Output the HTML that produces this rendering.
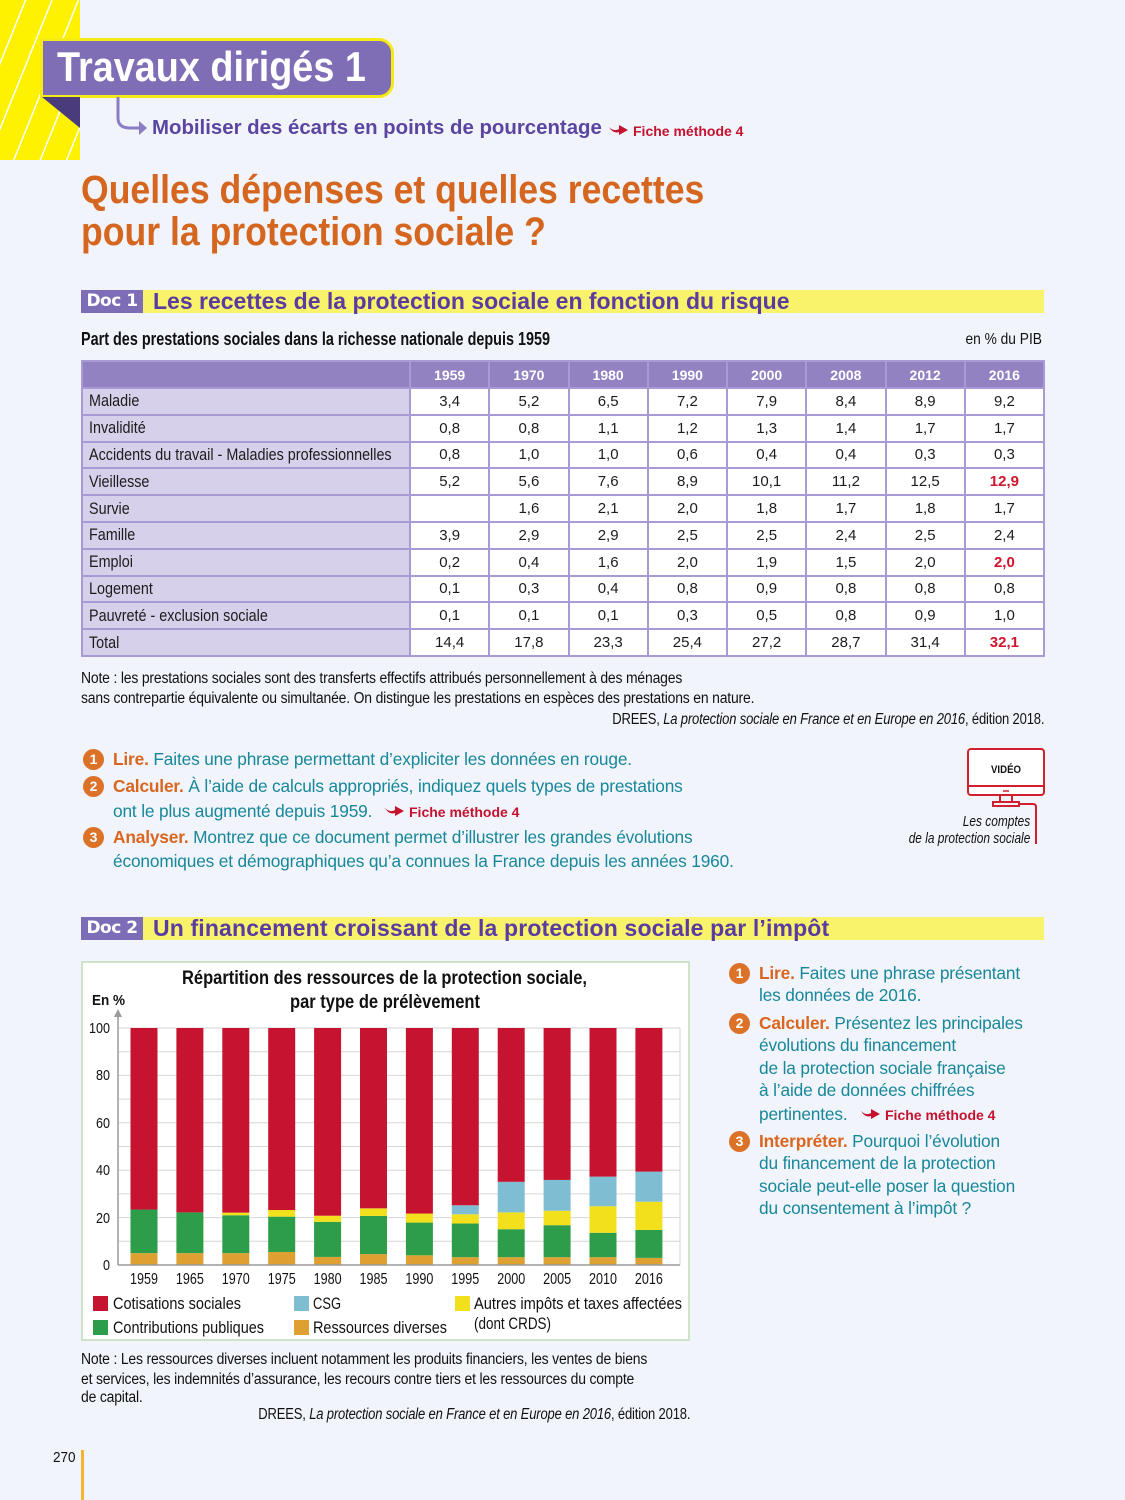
<!DOCTYPE html>
<html><head><meta charset="utf-8">
<style>
*{margin:0;padding:0;box-sizing:border-box}
html,body{width:1125px;height:1500px;overflow:hidden}
body{background:#f1f4fb;position:relative;font-family:"Liberation Sans",sans-serif}
.t{position:absolute;white-space:nowrap;line-height:1}
.sl{transform-origin:0 50%}
.sr{transform-origin:100% 50%}
.q{font-size:17.3px;color:#17879a;letter-spacing:-0.15px}
.q b{color:#d9651e}
.fm{color:#c4122f;font-weight:bold;font-size:14px}
.num{position:absolute;width:21px;height:21px;border-radius:50%;background:#dc7228;color:#fff;font-weight:bold;font-size:14px;text-align:center;line-height:21px}
table{position:absolute;left:81px;top:360px;width:964px;border-collapse:collapse;table-layout:fixed}
td,th{border:2px solid #a999d4;padding:0;height:26.8px;text-align:center;font-size:15px;color:#1c1c1c;background:#fff;white-space:nowrap;overflow:hidden}
th{background:#9282c2;color:#fff;font-weight:bold;font-size:14px;height:27px}
td.l{background:#d7d0ea;text-align:left;padding-left:6px;font-size:17px}
td.l span{display:inline-block;transform:scaleX(0.845);transform-origin:0 50%}
td.r{color:#d0142c;font-weight:bold}
.docb{position:absolute;left:81px;width:963px;height:23px;background:#f9f26b}
.docl{position:absolute;left:0;top:0;width:62px;height:23px;background:#7d6cb6;color:#fff;font-weight:bold;font-size:17px;line-height:23px;text-align:center;font-family:"DejaVu Sans",sans-serif;letter-spacing:-0.5px}
.doct{position:absolute;left:72px;top:0;line-height:23px;font-weight:bold;color:#5a3ca0;font-size:23px;white-space:nowrap}
.note{font-size:15.5px;color:#111;letter-spacing:-0.2px;transform:scaleX(0.9)}
</style></head><body>

<!-- yellow striped block -->
<div style="position:absolute;left:0;top:0;width:80px;height:160px;background:#fff200;background-image:repeating-linear-gradient(112deg,transparent 0 23px,#ffffff 23px 24.5px)"></div>

<!-- title banner -->
<div style="position:absolute;left:40px;top:38px;width:354px;height:60px;background:#7f6db5;border:3px solid #f5ea14;border-radius:0 15px 15px 0"></div>
<div class="t sl" style="left:57px;top:46px;font-size:42px;font-weight:bold;color:#fff;transform:scaleX(0.9)">Travaux dirigés 1</div>
<svg style="position:absolute;left:0;top:0" width="160" height="160">
 <polygon points="42,97 80,97 80,128" fill="#4a3b7d"/>
 <path d="M118,97 L118,118 Q118,128 130,128 L140,128" fill="none" stroke="#8c7cc4" stroke-width="3"/>
 <polygon points="139,121 147,128 139,135" fill="#8c7cc4"/>
</svg>
<div class="t" style="left:152px;top:118px;font-size:20.4px;font-weight:bold;color:#5b45a0">Mobiliser des écarts en points de pourcentage</div>
<svg style="position:absolute;left:608px;top:123px" width="22" height="14"><path d="M1,4 Q6,9 11,6 L11,2 L20,7 L11,12 L11,9 Q5,11 1,4Z" fill="#c4122f"/></svg>
<div class="t fm" style="left:633px;top:124px">Fiche méthode 4</div>

<!-- main title -->
<div class="t sl" style="left:81px;top:170px;font-size:40px;font-weight:bold;color:#d5661f;transform:scaleX(0.89)">Quelles dépenses et quelles recettes</div>
<div class="t sl" style="left:81px;top:212px;font-size:40px;font-weight:bold;color:#d5661f;transform:scaleX(0.89)">pour la protection sociale ?</div>

<!-- Doc 1 -->
<div class="docb" style="top:290px"><div class="docl">Doc 1</div><div class="doct">Les recettes de la protection sociale en fonction du risque</div></div>
<div class="t sl" style="left:81px;top:330px;font-size:18px;font-weight:bold;color:#111;transform:scaleX(0.8)">Part des prestations sociales dans la richesse nationale depuis 1959</div>
<div class="t sr" style="right:83px;top:332px;font-size:16px;color:#111;transform:scaleX(0.86)">en % du PIB</div>

<table>
<colgroup><col style="width:328px"><col><col><col><col><col><col><col><col></colgroup>
<tr><th style="background:#9282c2"></th><th>1959</th><th>1970</th><th>1980</th><th>1990</th><th>2000</th><th>2008</th><th>2012</th><th>2016</th></tr>
<tr><td class="l"><span>Maladie</span></td><td>3,4</td><td>5,2</td><td>6,5</td><td>7,2</td><td>7,9</td><td>8,4</td><td>8,9</td><td>9,2</td></tr>
<tr><td class="l"><span>Invalidité</span></td><td>0,8</td><td>0,8</td><td>1,1</td><td>1,2</td><td>1,3</td><td>1,4</td><td>1,7</td><td>1,7</td></tr>
<tr><td class="l"><span>Accidents du travail - Maladies professionnelles</span></td><td>0,8</td><td>1,0</td><td>1,0</td><td>0,6</td><td>0,4</td><td>0,4</td><td>0,3</td><td>0,3</td></tr>
<tr><td class="l"><span>Vieillesse</span></td><td>5,2</td><td>5,6</td><td>7,6</td><td>8,9</td><td>10,1</td><td>11,2</td><td>12,5</td><td class="r">12,9</td></tr>
<tr><td class="l"><span>Survie</span></td><td></td><td>1,6</td><td>2,1</td><td>2,0</td><td>1,8</td><td>1,7</td><td>1,8</td><td>1,7</td></tr>
<tr><td class="l"><span>Famille</span></td><td>3,9</td><td>2,9</td><td>2,9</td><td>2,5</td><td>2,5</td><td>2,4</td><td>2,5</td><td>2,4</td></tr>
<tr><td class="l"><span>Emploi</span></td><td>0,2</td><td>0,4</td><td>1,6</td><td>2,0</td><td>1,9</td><td>1,5</td><td>2,0</td><td class="r">2,0</td></tr>
<tr><td class="l"><span>Logement</span></td><td>0,1</td><td>0,3</td><td>0,4</td><td>0,8</td><td>0,9</td><td>0,8</td><td>0,8</td><td>0,8</td></tr>
<tr><td class="l"><span>Pauvreté - exclusion sociale</span></td><td>0,1</td><td>0,1</td><td>0,1</td><td>0,3</td><td>0,5</td><td>0,8</td><td>0,9</td><td>1,0</td></tr>
<tr><td class="l"><span>Total</span></td><td>14,4</td><td>17,8</td><td>23,3</td><td>25,4</td><td>27,2</td><td>28,7</td><td>31,4</td><td class="r">32,1</td></tr>
</table>

<div class="t sl note" style="left:81px;top:671px">Note : les prestations sociales sont des transferts effectifs attribués personnellement à des ménages</div>
<div class="t sl note" style="left:81px;top:691px">sans contrepartie équivalente ou simultanée. On distingue les prestations en espèces des prestations en nature.</div>
<div class="t sr note" style="right:81px;top:712px;transform:scaleX(0.84)">DREES, <i>La protection sociale en France et en Europe en 2016</i>, édition 2018.</div>

<!-- questions doc 1 -->
<div class="num" style="left:83px;top:749px">1</div>
<div class="num" style="left:83px;top:776px">2</div>
<div class="num" style="left:83px;top:827px">3</div>
<div class="t q" style="left:113px;top:751px"><b>Lire.</b> Faites une phrase permettant d’expliciter les données en rouge.</div>
<div class="t q" style="left:113px;top:778px"><b>Calculer.</b> À l’aide de calculs appropriés, indiquez quels types de prestations</div>
<div class="t q" style="left:113px;top:803px">ont le plus augmenté depuis 1959.</div>
<svg style="position:absolute;left:384px;top:804px" width="22" height="14"><path d="M1,4 Q6,9 11,6 L11,2 L20,7 L11,12 L11,9 Q5,11 1,4Z" fill="#c4122f"/></svg>
<div class="t fm" style="left:409px;top:805px">Fiche méthode 4</div>
<div class="t q" style="left:113px;top:829px"><b>Analyser.</b> Montrez que ce document permet d’illustrer les grandes évolutions</div>
<div class="t q" style="left:113px;top:853px">économiques et démographiques qu’a connues la France depuis les années 1960.</div>

<!-- video icon -->
<svg style="position:absolute;left:960px;top:744px" width="90" height="105">
 <rect x="8" y="5" width="76" height="46" rx="3" fill="#fff" stroke="#d21f2e" stroke-width="2"/>
 <line x1="8" y1="42" x2="84" y2="42" stroke="#d21f2e" stroke-width="2"/>
 <line x1="43" y1="47" x2="49" y2="47" stroke="#d21f2e" stroke-width="1.5"/>
 <path d="M40,51 L40,58 L52,58 L52,51" fill="none" stroke="#d21f2e" stroke-width="2"/>
 <rect x="33" y="58" width="26" height="4" fill="none" stroke="#d21f2e" stroke-width="2"/>
 <path d="M59,60 L73,60 Q76,60 76,63 L76,100" fill="none" stroke="#d21f2e" stroke-width="2"/>
 <text x="46" y="29" text-anchor="middle" font-family="Liberation Sans, sans-serif" font-weight="bold" font-size="11" textLength="30" lengthAdjust="spacingAndGlyphs" fill="#111">VIDÉO</text>
</svg>
<div class="t sr" style="right:95px;top:815px;font-size:14.5px;font-style:italic;color:#111;transform:scaleX(0.82)">Les comptes</div>
<div class="t sr" style="right:95px;top:832px;font-size:14.5px;font-style:italic;color:#111;transform:scaleX(0.82)">de la protection sociale</div>

<!-- Doc 2 -->
<div class="docb" style="top:917px"><div class="docl">Doc 2</div><div class="doct" style="letter-spacing:0.15px">Un financement croissant de la protection sociale par l’impôt</div></div>

<!-- chart -->
<div style="position:absolute;left:81px;top:961px;width:609px;height:380px;background:#fff;border:2px solid #cfe3cb"></div>
<svg style="position:absolute;left:81px;top:961px" width="609" height="380" font-family="Liberation Sans, sans-serif">
 <text x="101" y="23" font-weight="bold" font-size="19" fill="#111" textLength="405" lengthAdjust="spacingAndGlyphs">Répartition des ressources de la protection sociale,</text>
 <text x="209" y="47" font-weight="bold" font-size="19" fill="#111" textLength="190" lengthAdjust="spacingAndGlyphs">par type de prélèvement</text>
 <text x="11" y="44" font-weight="bold" font-size="15" fill="#111" textLength="33" lengthAdjust="spacingAndGlyphs">En %</text>
 <g stroke="#d6d6d6" stroke-width="1">
  <line x1="37" y1="280.3" x2="599" y2="280.3"/><line x1="37" y1="256.6" x2="599" y2="256.6"/>
  <line x1="37" y1="232.9" x2="599" y2="232.9"/><line x1="37" y1="209.2" x2="599" y2="209.2"/>
  <line x1="37" y1="185.5" x2="599" y2="185.5"/><line x1="37" y1="161.8" x2="599" y2="161.8"/>
  <line x1="37" y1="138.1" x2="599" y2="138.1"/><line x1="37" y1="114.4" x2="599" y2="114.4"/>
  <line x1="37" y1="90.7" x2="599" y2="90.7"/><line x1="37" y1="67" x2="599" y2="67"/>
  <line x1="599" y1="67" x2="599" y2="304"/>
 </g>
 <g transform="translate(0,304) scale(1,-2.37)">
  <rect x="49.5" y="0" width="27" height="5" fill="#dea030"/><rect x="49.5" y="5" width="27" height="18.4" fill="#2e9d49"/><rect x="49.5" y="23.4" width="27" height="76.6" fill="#c6132f"/>
  <rect x="95.4" y="0" width="27" height="5" fill="#dea030"/><rect x="95.4" y="5" width="27" height="17.2" fill="#2e9d49"/><rect x="95.4" y="22.2" width="27" height="77.8" fill="#c6132f"/>
  <rect x="141.3" y="0" width="27" height="5" fill="#dea030"/><rect x="141.3" y="5" width="27" height="16" fill="#2e9d49"/><rect x="141.3" y="21" width="27" height="1.1" fill="#f3e01c"/><rect x="141.3" y="22.1" width="27" height="77.9" fill="#c6132f"/>
  <rect x="187.2" y="0" width="27" height="5.5" fill="#dea030"/><rect x="187.2" y="5.5" width="27" height="14.9" fill="#2e9d49"/><rect x="187.2" y="20.4" width="27" height="2.8" fill="#f3e01c"/><rect x="187.2" y="23.2" width="27" height="76.8" fill="#c6132f"/>
  <rect x="233.1" y="0" width="27" height="3.4" fill="#dea030"/><rect x="233.1" y="3.4" width="27" height="14.8" fill="#2e9d49"/><rect x="233.1" y="18.2" width="27" height="2.6" fill="#f3e01c"/><rect x="233.1" y="20.8" width="27" height="79.2" fill="#c6132f"/>
  <rect x="279" y="0" width="27" height="4.6" fill="#dea030"/><rect x="279" y="4.6" width="27" height="16.1" fill="#2e9d49"/><rect x="279" y="20.7" width="27" height="3.2" fill="#f3e01c"/><rect x="279" y="23.9" width="27" height="76.1" fill="#c6132f"/>
  <rect x="324.9" y="0" width="27" height="4.1" fill="#dea030"/><rect x="324.9" y="4.1" width="27" height="13.8" fill="#2e9d49"/><rect x="324.9" y="17.9" width="27" height="3.8" fill="#f3e01c"/><rect x="324.9" y="21.7" width="27" height="78.3" fill="#c6132f"/>
  <rect x="370.8" y="0" width="27" height="3.3" fill="#dea030"/><rect x="370.8" y="3.3" width="27" height="14.2" fill="#2e9d49"/><rect x="370.8" y="17.5" width="27" height="3.9" fill="#f3e01c"/><rect x="370.8" y="21.4" width="27" height="3.8" fill="#7fbdd3"/><rect x="370.8" y="25.2" width="27" height="74.8" fill="#c6132f"/>
  <rect x="416.7" y="0" width="27" height="3.3" fill="#dea030"/><rect x="416.7" y="3.3" width="27" height="11.8" fill="#2e9d49"/><rect x="416.7" y="15.1" width="27" height="7.1" fill="#f3e01c"/><rect x="416.7" y="22.2" width="27" height="12.9" fill="#7fbdd3"/><rect x="416.7" y="35.1" width="27" height="64.9" fill="#c6132f"/>
  <rect x="462.6" y="0" width="27" height="3.3" fill="#dea030"/><rect x="462.6" y="3.3" width="27" height="13.5" fill="#2e9d49"/><rect x="462.6" y="16.8" width="27" height="6.1" fill="#f3e01c"/><rect x="462.6" y="22.9" width="27" height="13" fill="#7fbdd3"/><rect x="462.6" y="35.9" width="27" height="64.1" fill="#c6132f"/>
  <rect x="508.5" y="0" width="27" height="3.3" fill="#dea030"/><rect x="508.5" y="3.3" width="27" height="10.3" fill="#2e9d49"/><rect x="508.5" y="13.6" width="27" height="11.2" fill="#f3e01c"/><rect x="508.5" y="24.8" width="27" height="12.5" fill="#7fbdd3"/><rect x="508.5" y="37.3" width="27" height="62.7" fill="#c6132f"/>
  <rect x="554.4" y="0" width="27" height="3" fill="#dea030"/><rect x="554.4" y="3" width="27" height="11.8" fill="#2e9d49"/><rect x="554.4" y="14.8" width="27" height="11.9" fill="#f3e01c"/><rect x="554.4" y="26.7" width="27" height="12.7" fill="#7fbdd3"/><rect x="554.4" y="39.4" width="27" height="60.6" fill="#c6132f"/>
 </g>
 <line x1="37" y1="304" x2="599" y2="304" stroke="#9a9a9a" stroke-width="1.5"/>
 <line x1="37" y1="304" x2="37" y2="54" stroke="#9a9a9a" stroke-width="1.5"/>
 <polygon points="33,56 41,56 37,48" fill="#9a9a9a"/>
 <g font-size="15" fill="#111" text-anchor="end">
  <text x="29" y="309" textLength="7" lengthAdjust="spacingAndGlyphs">0</text>
  <text x="29" y="262" textLength="14" lengthAdjust="spacingAndGlyphs">20</text>
  <text x="29" y="214" textLength="14" lengthAdjust="spacingAndGlyphs">40</text>
  <text x="29" y="167" textLength="14" lengthAdjust="spacingAndGlyphs">60</text>
  <text x="29" y="119" textLength="14" lengthAdjust="spacingAndGlyphs">80</text>
  <text x="29" y="72" textLength="21" lengthAdjust="spacingAndGlyphs">100</text>
 </g>
 <g font-size="16" fill="#111" text-anchor="middle">
  <text x="63" y="323" textLength="28" lengthAdjust="spacingAndGlyphs">1959</text>
  <text x="108.9" y="323" textLength="28" lengthAdjust="spacingAndGlyphs">1965</text>
  <text x="154.8" y="323" textLength="28" lengthAdjust="spacingAndGlyphs">1970</text>
  <text x="200.7" y="323" textLength="28" lengthAdjust="spacingAndGlyphs">1975</text>
  <text x="246.6" y="323" textLength="28" lengthAdjust="spacingAndGlyphs">1980</text>
  <text x="292.5" y="323" textLength="28" lengthAdjust="spacingAndGlyphs">1985</text>
  <text x="338.4" y="323" textLength="28" lengthAdjust="spacingAndGlyphs">1990</text>
  <text x="384.3" y="323" textLength="28" lengthAdjust="spacingAndGlyphs">1995</text>
  <text x="430.2" y="323" textLength="28" lengthAdjust="spacingAndGlyphs">2000</text>
  <text x="476.1" y="323" textLength="28" lengthAdjust="spacingAndGlyphs">2005</text>
  <text x="522" y="323" textLength="28" lengthAdjust="spacingAndGlyphs">2010</text>
  <text x="567.9" y="323" textLength="28" lengthAdjust="spacingAndGlyphs">2016</text>
 </g>
 <g font-size="16.5" fill="#111">
  <rect x="12" y="335" width="15" height="15" fill="#c6132f"/><text x="32" y="348" textLength="128" lengthAdjust="spacingAndGlyphs">Cotisations sociales</text>
  <rect x="12" y="359" width="15" height="15" fill="#2e9d49"/><text x="32" y="372" textLength="151" lengthAdjust="spacingAndGlyphs">Contributions publiques</text>
  <rect x="213" y="335" width="15" height="15" fill="#7fbdd3"/><text x="232" y="348" textLength="28" lengthAdjust="spacingAndGlyphs">CSG</text>
  <rect x="213" y="359" width="15" height="15" fill="#dea030"/><text x="232" y="372" textLength="134" lengthAdjust="spacingAndGlyphs">Ressources diverses</text>
  <rect x="374" y="335" width="15" height="15" fill="#f3e01c"/><text x="393" y="348" textLength="208" lengthAdjust="spacingAndGlyphs">Autres impôts et taxes affectées</text>
  <text x="393" y="368" textLength="77" lengthAdjust="spacingAndGlyphs">(dont CRDS)</text>
 </g>
</svg>

<!-- right questions -->
<div class="num" style="left:729px;top:963px">1</div>
<div class="num" style="left:729px;top:1013px">2</div>
<div class="num" style="left:729px;top:1131px">3</div>
<div class="t q" style="left:759px;top:965px"><b>Lire.</b> Faites une phrase présentant</div>
<div class="t q" style="left:759px;top:987px">les données de 2016.</div>
<div class="t q" style="left:759px;top:1015px"><b>Calculer.</b> Présentez les principales</div>
<div class="t q" style="left:759px;top:1037px">évolutions du financement</div>
<div class="t q" style="left:759px;top:1060px">de la protection sociale française</div>
<div class="t q" style="left:759px;top:1082px">à l’aide de données chiffrées</div>
<div class="t q" style="left:759px;top:1106px">pertinentes.</div>
<svg style="position:absolute;left:860px;top:1107px" width="22" height="14"><path d="M1,4 Q6,9 11,6 L11,2 L20,7 L11,12 L11,9 Q5,11 1,4Z" fill="#c4122f"/></svg>
<div class="t fm" style="left:885px;top:1108px">Fiche méthode 4</div>
<div class="t q" style="left:759px;top:1133px"><b>Interpréter.</b> Pourquoi l’évolution</div>
<div class="t q" style="left:759px;top:1155px">du financement de la protection</div>
<div class="t q" style="left:759px;top:1178px">sociale peut-elle poser la question</div>
<div class="t q" style="left:759px;top:1200px">du consentement à l’impôt ?</div>

<!-- bottom note -->
<div class="t sl note" style="left:81px;top:1352px">Note : Les ressources diverses incluent notamment les produits financiers, les ventes de biens</div>
<div class="t sl note" style="left:81px;top:1372px">et services, les indemnités d’assurance, les recours contre tiers et les ressources du compte</div>
<div class="t sl note" style="left:81px;top:1390px">de capital.</div>
<div class="t sr note" style="right:435px;top:1407px;transform:scaleX(0.84)">DREES, <i>La protection sociale en France et en Europe en 2016</i>, édition 2018.</div>

<div class="t sl" style="left:53px;top:1450px;font-size:15px;color:#111;transform:scaleX(0.9)">270</div>
<div style="position:absolute;left:81px;top:1450px;width:3px;height:50px;background:#f2b433"></div>
</body></html>
